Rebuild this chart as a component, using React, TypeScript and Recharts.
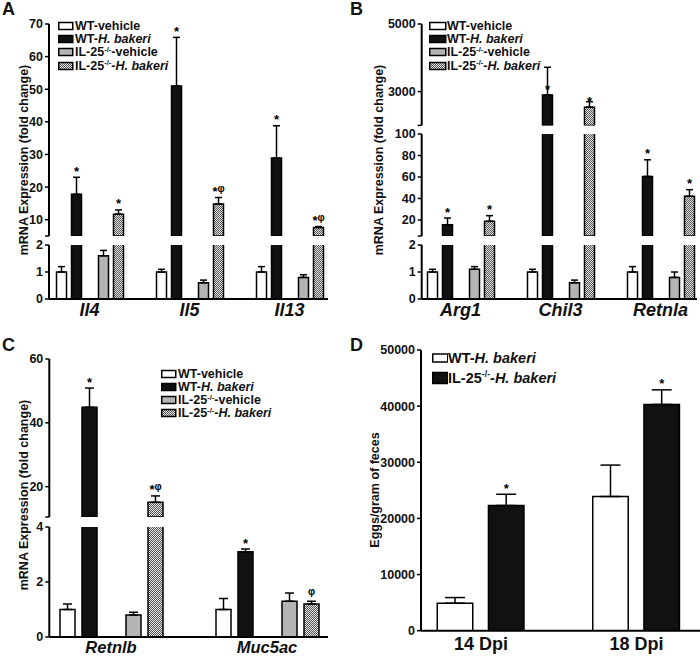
import React from 'react';
import { BarChart, Bar, XAxis, YAxis, ErrorBar, LabelList } from 'recharts';

const FONT = '"Liberation Sans", Arial, Helvetica, sans-serif';

// legend names
const namesABC = ['WT-vehicle', 'WT-H. bakeri', 'IL-25-/--vehicle', 'IL-25-/--H. bakeri'];
const namesD = ['WT-H. bakeri', 'IL-25-/--H. bakeri'];

// Panel A - small intestine cytokines
const genesA = ['Il4', 'Il5', 'Il13'];
const wtVehA = [1.0, 1.0, 1.0];
const wtVehErrA = [0.2, 0.1, 0.2];
const wtHbA = [17.8, 51.0, 28.9];
const wtHbErrA = [5.2, 14.9, 9.9];
const koVehA = [1.6, 0.6, 0.8];
const koVehErrA = [0.2, 0.1, 0.1];
const koHbA = [11.7, 14.8, 7.6];
const koHbErrA = [1.3, 2.0, 0.3];
const wtHbMarkA = ['*', '*', '*'];
const koHbMarkA = ['*', '*φ', '*φ'];

// Panel B - alternative activation markers
const genesB = ['Arg1', 'Chil3', 'Retnla'];
const wtVehB = [1.0, 1.0, 1.0];
const wtVehErrB = [0.1, 0.1, 0.2];
const wtHbB = [15.6, 2900, 60.5];
const wtHbErrB = [6.2, 820, 15.5];
const koVehB = [1.1, 0.6, 0.8];
const koVehErrB = [0.1, 0.1, 0.2];
const koHbB = [18.7, 2540, 42];
const koHbErrB = [5.3, 160, 6.2];
const wtHbMarkB = ['*', '*', '*'];
const koHbMarkB = ['*', '*', '*'];

// Panel C - goblet cell markers
const genesC = ['Retnlb', 'Muc5ac'];
const wtVehC = [1.0, 1.0];
const wtVehErrC = [0.2, 0.4];
const wtHbC = [44.9, 3.1];
const wtHbErrC = [6.0, 0.1];
const koVehC = [0.8, 1.3];
const koVehErrC = [0.1, 0.3];
const koHbC = [15.1, 1.2];
const koHbErrC = [2.0, 0.1];
const wtHbMarkC = ['*', '*'];
const koHbMarkC = ['*φ', 'φ'];

// Panel D - egg counts
const daysD = ['14 Dpi', '18 Dpi'];
const wtHbD = [4900, 23900];
const wtHbErrD = [1000, 5600];
const koHbD = [22300, 40300];
const koHbErrD = [2000, 2600];
const koHbMarkD = ['*', '*'];

const seriesA = [
  { values: wtVehA, errs: wtVehErrA, marks: [] as string[] },
  { values: wtHbA, errs: wtHbErrA, marks: wtHbMarkA },
  { values: koVehA, errs: koVehErrA, marks: [] as string[] },
  { values: koHbA, errs: koHbErrA, marks: koHbMarkA },
];
const seriesB = [
  { values: wtVehB, errs: wtVehErrB, marks: [] as string[] },
  { values: wtHbB, errs: wtHbErrB, marks: wtHbMarkB },
  { values: koVehB, errs: koVehErrB, marks: [] as string[] },
  { values: koHbB, errs: koHbErrB, marks: koHbMarkB },
];
const seriesC = [
  { values: wtVehC, errs: wtVehErrC, marks: [] as string[] },
  { values: wtHbC, errs: wtHbErrC, marks: wtHbMarkC },
  { values: koVehC, errs: koVehErrC, marks: [] as string[] },
  { values: koHbC, errs: koHbErrC, marks: koHbMarkC },
];
const seriesD = [
  { values: wtHbD, errs: wtHbErrD, marks: [] as string[] },
  { values: koHbD, errs: koHbErrD, marks: koHbMarkD },
];

const fills4 = ['#ffffff', '#111111', '#b4b4b4', 'url(#chk)'];
const fills2 = ['#ffffff', '#111111'];

const panelA = {
  left: 0, plotLeft: 49, plotRight: 328, padL: -9.5, padR: -11.5,
  barSize: 10, barGap: 5, spacer: 7, cap: 3.5,
  catFont: 18, catItalic: true, catDy: 17,
  sections: [
    { lo: 5, hi: 70, ticks: [5, 10, 20, 30, 40, 50, 60, 70], top: 24.3, bottom: 236.3 },
    { lo: 0, hi: 2, ticks: [0, 1, 2], top: 245.3, bottom: 299.3 },
  ],
  letter: 'A', letterX: 2, letterY: 0,
  ylabel: 'mRNA Expression (fold change)', ylabelX: 24, ylabelY: 160,
  legend: { x: 57.7, w: 14, h: [7, 7, 7, 7], textX: 75, rows: [25.7, 39, 52.3, 65.7], font: 12.5 },
};
const panelB = {
  left: 350, plotLeft: 421.7, plotRight: 697, padL: -11.2, padR: -13.5,
  barSize: 10, barGap: 5, spacer: 7, cap: 3.5,
  catFont: 18, catItalic: true, catDy: 17,
  sections: [
    { lo: 2000, hi: 5000, ticks: [2000, 3000, 5000], top: 24.3, bottom: 125.7 },
    { lo: 5, hi: 100, ticks: [5, 20, 40, 60, 80, 100], top: 134.3, bottom: 236.4 },
    { lo: 0, hi: 2, ticks: [0, 1, 2], top: 245.3, bottom: 299.3 },
  ],
  letter: 'B', letterX: 350, letterY: 0,
  ylabel: 'mRNA Expression (fold change)', ylabelX: 379, ylabelY: 160,
  legend: { x: 429, w: 16, h: [7, 7, 7, 7], textX: 447, rows: [25.7, 39, 52.3, 65.7], font: 12.5 },
};
const panelC = {
  left: 0, plotLeft: 49.3, plotRight: 328, padL: -16.3, padR: -17,
  barSize: 15, barGap: 7, spacer: 15, cap: 4.5,
  catFont: 16.5, catItalic: true, catDy: 15.5,
  sections: [
    { lo: 10.5, hi: 60, ticks: [10.5, 20, 40, 60], top: 359.3, bottom: 517.3 },
    { lo: 0, hi: 4, ticks: [0, 2, 4], top: 526.7, bottom: 636.7 },
  ],
  letter: 'C', letterX: 2, letterY: 336,
  ylabel: 'mRNA Expression (fold change)', ylabelX: 24, ylabelY: 495,
  legend: { x: 161, w: 14, h: [7, 7, 7, 7], textX: 178, rows: [374, 387, 400, 413], font: 12.5 },
};
const panelD = {
  left: 350, plotLeft: 421, plotRight: 700, padL: -17.75, padR: -14.25,
  barSize: 35.5, barGap: 15.7, spacer: 0, cap: 10,
  catFont: 18, catItalic: false, catDy: 19,
  sections: [
    { lo: 0, hi: 50000, ticks: [0, 10000, 20000, 30000, 40000, 50000], top: 350, bottom: 630.7 },
  ],
  letter: 'D', letterX: 350, letterY: 336,
  ylabel: 'Eggs/gram of feces', ylabelX: 375, ylabelY: 490,
  legend: { x: 431.7, w: 15, h: [8, 11], textX: 448, rows: [357.7, 377.7], font: 14.5 },
};

function rich(text: string) {
  const parts = text.split(/(-\/-|H\. bakeri)/);
  return parts.map((p, i) => {
    if (p === '-/-') return <span key={i} style={{ fontSize: '0.6em', position: 'relative', top: '-0.6em' }}>{p}</span>;
    if (p === 'H. bakeri') return <i key={i}>{p}</i>;
    return <span key={i}>{p}</span>;
  });
}

const makeMark = (s: any, base: number) => (props: any) => {
  const vb = props.viewBox || props;
  const value = props.value;
  const index = props.index;
  if (!value || index == null) return null;
  const v = s.values[index];
  const e = s.errs[index];
  const ppu = vb.height / (v - base);
  const cx = vb.x + vb.width / 2;
  const yTop = vb.y - e * ppu;
  return (
    <text x={cx} y={yTop - 1.5} textAnchor="middle" fontFamily={FONT} fontWeight="bold" fill="#000">
      {String(value).split('').map((ch, i) =>
        ch === 'φ'
          ? <tspan key={i} fontSize={10} dy={-4.5}>{ch}</tspan>
          : <tspan key={i} fontSize={13}>{ch}</tspan>
      )}
    </text>
  );
};

function CatTick(props: any) {
  const { x, y, payload, cfg } = props;
  return (
    <text x={x} y={y + cfg.catDy} textAnchor="middle" fontFamily={FONT} fontWeight="bold"
      fontStyle={cfg.catItalic ? 'italic' : 'normal'} fontSize={cfg.catFont} fill="#111">
      {payload.value}
    </text>
  );
}

function Section({ cfg, sec, isBottom, cats, series, fills }: any) {
  const mt = 12;
  const xh = isBottom ? 30 : 0;
  const mb = isBottom ? 0 : 4;
  const height = sec.bottom - sec.top + mt + xh + mb;
  const width = 350;
  const rows = cats.map((c: string, i: number) => {
    const row: any = { cat: c };
    series.forEach((s: any, k: number) => {
      const v = s.values[i];
      const shown = v > sec.lo;
      const topped = shown && v <= sec.hi;
      row['v' + k] = shown ? v : null;
      row['e' + k] = topped ? [0, s.errs[i]] : null;
      row['m' + k] = topped ? (s.marks[i] || '') : '';
    });
    return row;
  });

  const bars: any[] = [];
  series.forEach((s: any, k: number) => {
    if (k === 2 && cfg.spacer) {
      bars.push(<Bar key="gap" dataKey="gap" barSize={cfg.spacer} fill="none" isAnimationActive={false} />);
    }
    bars.push(
      <Bar key={'b' + k} dataKey={'v' + k} barSize={cfg.barSize} fill={fills[k]} stroke="#000"
        strokeWidth={1.5} isAnimationActive={false}>
        <ErrorBar dataKey={'e' + k} width={cfg.cap} stroke="#000" strokeWidth={1.5} direction="y" />
        <LabelList dataKey={'m' + k} content={makeMark(s, sec.lo)} />
      </Bar>
    );
  });

  return (
    <div style={{ position: 'absolute', left: cfg.left, top: sec.top - mt }}>
      <BarChart width={width} height={height} data={rows} barGap={cfg.barGap}
        margin={{ top: mt, bottom: mb, left: 0, right: cfg.left + width - cfg.plotRight }}>
        <XAxis dataKey="cat" hide={!isBottom} height={30} interval={0}
          padding={{ left: cfg.padL, right: cfg.padR }}
          tickLine={false} tickSize={0} tickMargin={0}
          axisLine={{ stroke: '#000', strokeWidth: 2 }}
          tick={<CatTick cfg={cfg} />} />
        <YAxis type="number" domain={[sec.lo, sec.hi]} allowDataOverflow ticks={sec.ticks}
          interval={0} width={cfg.plotLeft - cfg.left} tickSize={4} tickMargin={2}
          tickFormatter={(v: number) => (!isBottom && v === sec.lo ? '' : String(v))}
          axisLine={{ stroke: '#000', strokeWidth: 2 }}
          tickLine={{ stroke: '#000', strokeWidth: 1.5 }}
          tick={{ fill: '#111', fontSize: 12.5, fontWeight: 'bold', fontFamily: FONT }} />
        {bars}
      </BarChart>
    </div>
  );
}

function Panel({ cfg, cats, series, names, fills }: any) {
  const lg = cfg.legend;
  return (
    <>
      <div style={{ position: 'absolute', left: cfg.letterX, top: cfg.letterY, fontSize: 18,
        lineHeight: '18px', fontWeight: 'bold', color: '#111' }}>{cfg.letter}</div>
      <div style={{ position: 'absolute', left: cfg.ylabelX, top: cfg.ylabelY,
        transform: 'translate(-50%, -50%) rotate(-90deg)', whiteSpace: 'nowrap',
        fontSize: 12.5, fontWeight: 'bold', color: '#111' }}>{cfg.ylabel}</div>
      {cfg.sections.map((sec: any, i: number) => (
        <Section key={i} cfg={cfg} sec={sec} isBottom={i === cfg.sections.length - 1}
          cats={cats} series={series} fills={fills} />
      ))}
      {names.map((n: string, i: number) => (
        <div key={'lg' + i} style={{ position: 'absolute', left: lg.x, top: lg.rows[i] - 8, height: 16,
          display: 'flex', alignItems: 'center', fontSize: lg.font, fontWeight: 'bold',
          whiteSpace: 'nowrap', color: '#111' }}>
          <svg width={lg.textX - lg.x} height={16} style={{ flex: 'none' }}>
            <rect x={0.75} y={8 - lg.h[i] / 2} width={lg.w} height={lg.h[i]} fill={fills[i]}
              stroke="#000" strokeWidth={1.5} />
          </svg>
          <span>{rich(n)}</span>
        </div>
      ))}
    </>
  );
}

export default function App() {
  return (
    <div style={{ position: 'absolute', left: 0, top: 0, width: 700, height: 656, overflow: 'hidden',
      background: '#fff', fontFamily: FONT }}>
      <svg width={0} height={0} style={{ position: 'absolute' }}>
        <defs>
          <pattern id="chk" width={2} height={2} patternUnits="userSpaceOnUse">
            <rect width={2} height={2} fill="#e4e4e4" />
            <rect width={1} height={1} fill="#555" />
            <rect x={1} y={1} width={1} height={1} fill="#555" />
          </pattern>
        </defs>
      </svg>
      <Panel cfg={panelA} cats={genesA} series={seriesA} names={namesABC} fills={fills4} />
      <Panel cfg={panelB} cats={genesB} series={seriesB} names={namesABC} fills={fills4} />
      <Panel cfg={panelC} cats={genesC} series={seriesC} names={namesABC} fills={fills4} />
      <Panel cfg={panelD} cats={daysD} series={seriesD} names={namesD} fills={fills2} />
    </div>
  );
}
